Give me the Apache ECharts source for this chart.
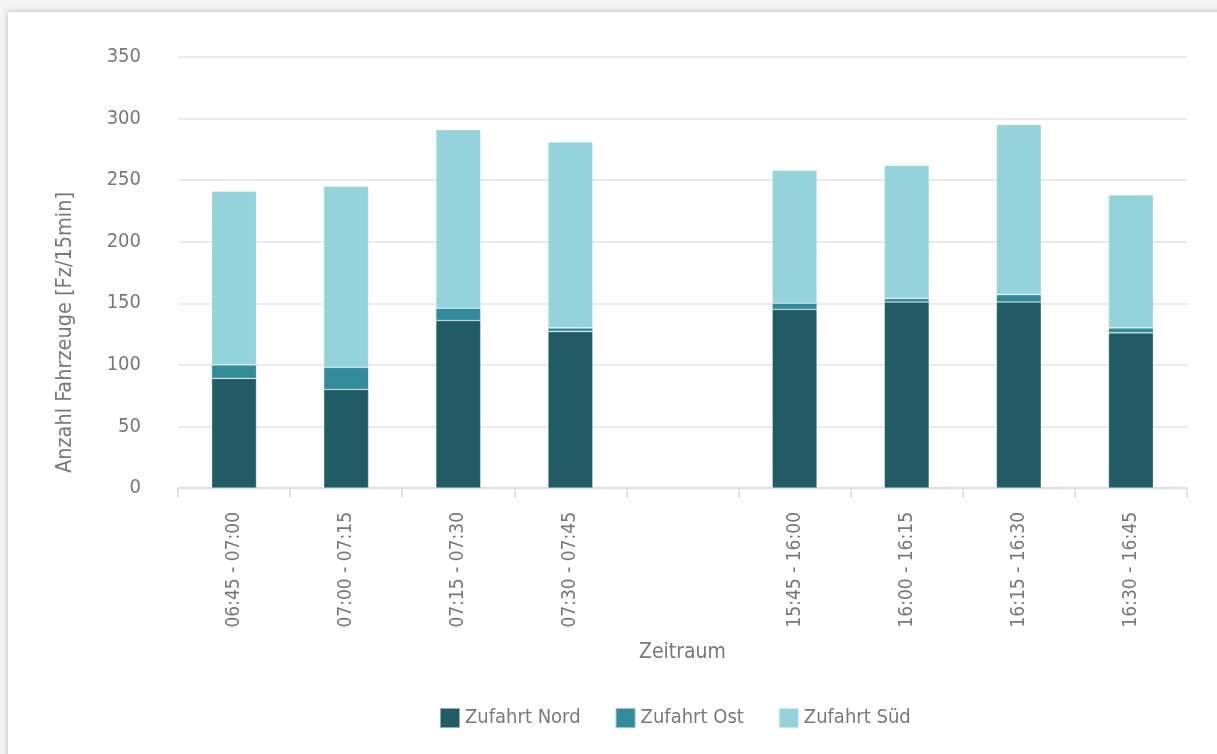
<!DOCTYPE html>
<html>
<head>
<meta charset="utf-8">
<script src="https://cdn.jsdelivr.net/npm/echarts@6/dist/echarts.min.js"></script>
<style>
  html, body { margin: 0; padding: 0; background: #f4f4f4; overflow: hidden; }
  .card {
    position: absolute; left: 8px; top: 12px; width: 1240px; height: 800px;
    background: #ffffff; box-shadow: 0 0 6px rgba(0, 0, 0, 0.25);
  }
  #chart { position: absolute; left: 0; top: 0; width: 1217px; height: 754px; }
</style>
</head>
<body>
<div class="card"></div>
<div id="chart"></div>
<script>
// Zeiträume (leere Kategorie als Lücke zwischen Morgen- und Abendspitze)
const zeitraum = ['06:45 - 07:00', '07:00 - 07:15', '07:15 - 07:30', '07:30 - 07:45', '',
  '15:45 - 16:00', '16:00 - 16:15', '16:15 - 16:30', '16:30 - 16:45'];
const nord = [89, 80, 136, 127, '-', 145, 151, 151, 126];
const ost = [11, 18, 10, 3, '-', 5, 3, 6, 4];
const sued = [141, 147, 145, 151, '-', 108, 108, 138, 108];

const font = '"Liberation Sans Narrow", "DejaVu Sans Condensed", sans-serif';
const grau = '#787878';

const chart = echarts.init(document.getElementById('chart'));

function serie(name, data, color) {
  return {
    name: name,
    type: 'bar',
    stack: 'gesamt',
    data: data,
    barWidth: '40%',
    itemStyle: { color: color, borderColor: 'rgba(255,255,255,0.5)', borderWidth: 0.6 }
  };
}

const option = {
  animation: false,
  grid: { left: 178, right: 30, top: 57, bottom: 266 },
  legend: {
    bottom: 20,
    left: 434,
    itemWidth: 20,
    itemHeight: 20,
    itemGap: 34,
    icon: 'rect',
    textStyle: { fontFamily: font, fontSize: 20, color: grau }
  },
  xAxis: {
    type: 'category',
    data: zeitraum,
    name: 'Zeitraum',
    nameLocation: 'middle',
    nameGap: 154,
    nameMoveOverlap: false,
    nameTextStyle: { fontFamily: font, fontSize: 21, color: grau },
    axisLine: { lineStyle: { color: '#d9d9d9', width: 1.5 } },
    axisTick: { show: true, length: 10, lineStyle: { color: '#d9d9d9', width: 1.5 } },
    axisLabel: {
      rotate: 90,
      margin: 24,
      fontFamily: font,
      fontSize: 19,
      color: grau,
      interval: 0
    }
  },
  yAxis: {
    type: 'value',
    min: 0,
    max: 350,
    interval: 50,
    name: 'Anzahl Fahrzeuge [Fz/15min]',
    nameLocation: 'middle',
    nameGap: 102,
    nameMoveOverlap: false,
    // Titel sitzt im Original etwas unterhalb der Achsenmitte
    nameTextStyle: { fontFamily: font, fontSize: 21.5, color: grau, padding: [0, 120, 0, 0] },
    axisLine: { show: false },
    axisTick: { show: false },
    axisLabel: { margin: 37, fontFamily: font, fontSize: 20, color: grau },
    splitLine: { lineStyle: { color: '#e3e3e3', width: 1.5 } }
  },
  series: [
    serie('Zufahrt Nord', nord, '#215c66'),
    serie('Zufahrt Ost', ost, '#318b99'),
    serie('Zufahrt Süd', sued, '#94d3dc')
  ]
};

chart.setOption(option);
</script>
</body>
</html>
